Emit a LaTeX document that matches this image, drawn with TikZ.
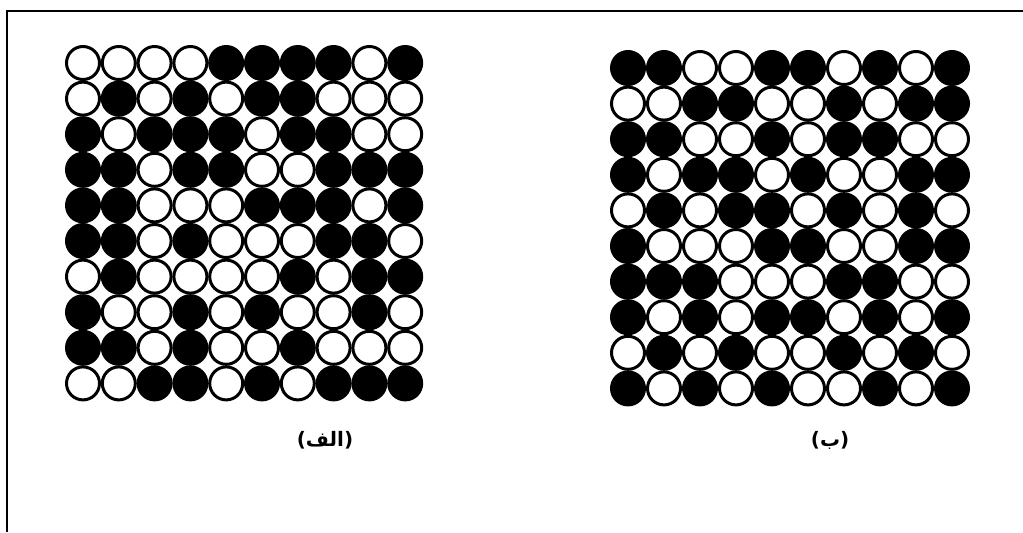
\documentclass[tikz,border=0pt]{standalone}
\usepackage{fontspec}
\newfontfamily\arabicfont[Script=Arabic]{DejaVu Sans}
\TeXXeTstate=1

\begin{document}
\begin{tikzpicture}[x=0.3mm, y=-0.3mm,
        dot0/.style={circle, draw=black, fill=white, line width=0.9mm, minimum size=9.9mm, inner sep=0pt},
        dot1/.style={dot0, fill=black},
        tag/.style={font=\arabicfont\bfseries\fontsize{17}{20}\selectfont}]
    \useasboundingbox (0,0) rectangle (1023,532);
    \draw[line width=0.6mm] (7,532) -- (7,11) -- (1023,11);
    % left grid (0 = white, 1 = black)
    \foreach \row [count=\r] in {{0,0,0,0,1,1,1,1,0,1},{0,1,0,1,0,1,1,0,0,0},{1,0,1,1,1,0,1,1,0,0},{1,1,0,1,1,0,0,1,1,1},{1,1,0,0,0,1,1,1,0,1},{1,1,0,1,0,0,0,1,1,0},{0,1,0,0,0,0,1,0,1,1},{1,0,0,1,0,1,0,0,1,0},{1,1,0,1,0,0,1,0,0,0},{0,0,1,1,0,1,0,1,1,1}}
        \foreach \v [count=\k] in \row
            \node[dot\v] (a-\r-\k) at ({83+35.8*(\k-1)},{63+35.6*(\r-1)}) {};
    % right grid
    \foreach \row [count=\r] in {{1,1,0,0,1,1,0,1,0,1},{0,0,1,1,0,0,1,0,1,1},{1,1,0,0,1,0,1,1,0,0},{1,0,1,1,0,1,0,0,1,1},{0,1,0,1,1,0,1,0,1,0},{1,0,0,0,1,1,0,0,1,1},{1,1,1,0,0,0,1,1,0,0},{1,0,1,0,1,1,0,1,0,1},{0,1,0,1,0,0,1,0,1,0},{1,0,1,0,1,0,0,1,0,1}}
        \foreach \v [count=\k] in \row
            \node[dot\v] (b-\r-\k) at ({628+36*(\k-1)},{68+35.6*(\r-1)}) {};
    \node[tag] (lab-a) at (325,440) {\beginR(الف)\endR};
    \node[tag] (lab-b) at (830,440) {\beginR(ب)\endR};
\end{tikzpicture}
\end{document}
